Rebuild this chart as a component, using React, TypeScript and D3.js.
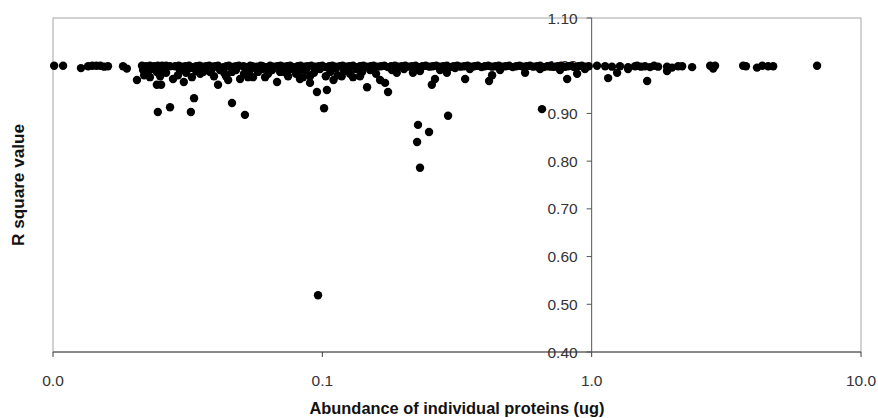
import React from "react";
import * as d3 from "d3";

// ---- data: [abundance (ug), R square] ----
const lowAbundancePoints: [number, number][] = [
  [0.0101, 1.0], [0.0109, 1.0], [0.0127, 0.995], [0.0135, 0.999], [0.0140, 1.0],
  [0.0145, 1.0], [0.0150, 1.0], [0.0155, 0.998], [0.0160, 0.999], [0.0182, 0.999],
  [0.0188, 0.994], [0.0214, 1.0], [0.0221, 0.999], [0.0229, 1.0], [0.0237, 0.999],
  [0.0245, 1.0], [0.0254, 1.0], [0.0263, 1.0], [0.0272, 0.999],
  [0.0216, 0.991], [0.0225, 0.987], [0.0233, 0.993], [0.0243, 0.987], [0.0254, 0.991],
  [0.0263, 0.985], [0.0218, 0.980], [0.0229, 0.976], [0.0250, 0.978], [0.0221, 0.995],
  [0.0261, 0.995],
];

const mainBandPoints: [number, number][] = [
  [0.0284, 0.999], [0.0293, 1.0], [0.0301, 0.998], [0.031, 0.999], [0.032, 1.0], [0.033, 0.997],
  [0.034, 0.999], [0.035, 1.0], [0.036, 0.998], [0.037, 0.999], [0.038, 1.0], [0.039, 0.998],
  [0.040, 0.999], [0.041, 1.0], [0.043, 0.997], [0.044, 0.999], [0.045, 1.0], [0.047, 0.998],
  [0.048, 0.999], [0.049, 1.0], [0.051, 0.999], [0.052, 0.997], [0.054, 1.0], [0.055, 0.999],
  [0.057, 0.998], [0.059, 1.0], [0.060, 0.999], [0.062, 0.997], [0.064, 1.0], [0.066, 0.998],
  [0.068, 0.999], [0.070, 1.0], [0.072, 0.998], [0.074, 0.999], [0.076, 1.0], [0.079, 0.997],
  [0.081, 0.999], [0.083, 1.0], [0.086, 0.998], [0.088, 0.999], [0.091, 1.0], [0.094, 0.998],
  [0.097, 0.999], [0.100, 1.0], [0.103, 0.997], [0.106, 0.999], [0.109, 1.0], [0.112, 0.998],
  [0.116, 0.999], [0.119, 1.0], [0.123, 0.998], [0.126, 0.999], [0.130, 1.0], [0.134, 0.997],
  [0.138, 0.999], [0.142, 1.0], [0.146, 0.998], [0.151, 0.999], [0.155, 1.0], [0.160, 0.998],
  [0.165, 0.999], [0.170, 1.0], [0.175, 0.997], [0.180, 0.999], [0.186, 1.0], [0.191, 0.998],
  [0.197, 0.999], [0.203, 1.0], [0.209, 0.998], [0.215, 0.999], [0.222, 1.0], [0.228, 0.997],
  [0.235, 0.999], [0.242, 1.0], [0.250, 0.998], [0.257, 0.999], [0.265, 1.0], [0.273, 0.998],
  [0.281, 0.999], [0.290, 1.0], [0.298, 0.997], [0.307, 0.999], [0.317, 1.0], [0.326, 0.998],
  [0.336, 0.999], [0.346, 1.0], [0.356, 0.998], [0.367, 0.999], [0.378, 1.0], [0.390, 0.997],
  [0.401, 0.999], [0.413, 1.0], [0.426, 0.998], [0.439, 0.999], [0.452, 1.0], [0.465, 0.998],
  [0.479, 0.999], [0.494, 1.0], [0.509, 0.997], [0.524, 0.999], [0.540, 1.0], [0.556, 0.998],
  [0.573, 0.999], [0.590, 1.0], [0.607, 0.998], [0.626, 0.999], [0.644, 1.0], [0.664, 0.997],
  [0.684, 0.999], [0.704, 1.0], [0.725, 0.998], [0.747, 0.999], [0.770, 1.0], [0.793, 0.998],
  [0.817, 0.999], [0.841, 1.0], [0.866, 0.997], [0.892, 0.999], [0.919, 1.0], [0.947, 0.998],
  [0.975, 0.999],
];

const subBandPoints: [number, number][] = [
  [0.0296, 0.991], [0.0312, 0.985], [0.0323, 0.995], [0.0340, 0.989], [0.0352, 0.983],
  [0.0367, 0.993], [0.0383, 0.987], [0.0396, 0.978], [0.0417, 0.991], [0.0432, 0.985],
  [0.0478, 0.991], [0.0512, 0.983], [0.0539, 0.991], [0.0577, 0.987], [0.0597, 0.993],
  [0.0629, 0.983], [0.0651, 0.991], [0.0721, 0.987], [0.0759, 0.993], [0.0799, 0.983],
  [0.0870, 0.991], [0.0931, 0.985], [0.098, 0.993], [0.107, 0.987], [0.1124, 0.995],
  [0.1205, 0.989], [0.1267, 0.983], [0.1334, 0.993], [0.1404, 0.987], [0.1504, 0.991],
  [0.1583, 0.983], [0.1814, 0.991], [0.201, 0.993], [0.2305, 0.989], [0.2735, 0.991],
  [0.311, 0.995], [0.353, 0.993], [0.457, 0.991], [0.643, 0.993], [0.763, 0.991],
  [0.944, 0.993],
  [0.0291, 0.980], [0.0328, 0.976], [0.0361, 0.987], [0.0389, 0.993], [0.0439, 0.978],
  [0.0462, 0.987], [0.0530, 0.976], [0.0567, 0.995], [0.0613, 0.976], [0.0697, 0.987],
  [0.0746, 0.978], [0.0826, 0.991], [0.090, 0.978], [0.103, 0.978], [0.118, 0.978],
  [0.138, 0.978],
];

const outlierPoints: [number, number][] = [
  [0.0205, 0.970], [0.0243, 0.960], [0.0252, 0.960], [0.0279, 0.972], [0.0306, 0.966],
  [0.0334, 0.932], [0.0245, 0.903], [0.0272, 0.913], [0.0325, 0.903], [0.0462, 0.922],
  [0.0516, 0.897], [0.1015, 0.911], [0.0410, 0.960], [0.0447, 0.970], [0.0495, 0.972],
  [0.0553, 0.976], [0.0679, 0.966], [0.0826, 0.972], [0.090, 0.964], [0.0955, 0.945],
  [0.104, 0.949], [0.0848, 0.976], [0.110, 0.970], [0.114, 0.980], [0.130, 0.976],
  [0.1466, 0.955], [0.1638, 0.970], [0.171, 0.964], [0.1754, 0.945], [0.189, 0.985],
  [0.217, 0.985], [0.255, 0.960], [0.262, 0.972], [0.290, 0.985], [0.293, 0.895],
  [0.2266, 0.876], [0.249, 0.861], [0.2248, 0.840], [0.2305, 0.786], [0.339, 0.972],
  [0.416, 0.968], [0.427, 0.980], [0.566, 0.985], [0.654, 0.909], [0.811, 0.972],
  [0.883, 0.983], [0.0964, 0.519],
];

const highAbundancePoints: [number, number][] = [
  [1.047, 1.0], [1.122, 0.999], [1.19, 0.998], [1.274, 0.999], [1.365, 0.997], [1.449, 0.999],
  [1.151, 0.974], [1.243, 0.985], [1.365, 0.993], [1.475, 1.0], [1.525, 0.998], [1.578, 0.999],
  [1.647, 0.997], [1.705, 1.0], [1.765, 0.998], [1.607, 0.968], [1.905, 0.998], [1.905, 0.989],
  [1.988, 0.996], [2.094, 0.999], [2.167, 0.999], [2.36, 0.997], [2.754, 1.0], [2.825, 0.994],
  [2.872, 1.0], [3.65, 1.0], [3.74, 0.999], [4.11, 0.996], [4.30, 1.0], [4.52, 0.999],
  [4.72, 0.999], [6.87, 1.0],
];

const xTicks = [0.01, 0.1, 1, 10];
const xTickLabels = ["0.0", "0.1", "1.0", "10.0"];
const yTicks = [0.4, 0.5, 0.6, 0.7, 0.8, 0.9, 1.0, 1.1];
const yTickLabels = ["0.40", "0.50", "0.60", "0.70", "0.80", "0.90", "1.00", "1.10"];
const xTitle = "Abundance of individual proteins (ug)";
const yTitle = "R square value";

const W = 878;
const H = 418;
const left = 53;
const right = 861;
const top = 18;
const bottom = 352;

export default function App() {
  const x = d3.scaleLog().domain([0.01, 10]).range([left, right]);
  const y = d3.scaleLinear().domain([0.4, 1.1]).range([bottom, top]);
  const all = [
    ...lowAbundancePoints,
    ...mainBandPoints,
    ...subBandPoints,
    ...outlierPoints,
    ...highAbundancePoints,
  ];
  const axisX = x(1);
  const font = "'Liberation Sans', Arial, sans-serif";
  return (
    <svg
      width={W}
      height={H}
      style={{ position: "absolute", left: 0, top: 0, background: "#fff" }}
      fontFamily={font}
    >
      <rect x={0} y={0} width={W} height={H} fill="#fff" />
      {/* plot border */}
      <rect
        x={left}
        y={top}
        width={right - left}
        height={bottom - top}
        fill="none"
        stroke="#a6a6a6"
        strokeWidth={1}
      />
      {/* x axis line */}
      <line x1={left} x2={right} y1={bottom} y2={bottom} stroke="#404040" strokeWidth={1} />
      {xTicks.map((t, i) => (
        <g key={"xt" + i}>
          <line x1={x(t)} x2={x(t)} y1={bottom} y2={bottom + 5} stroke="#404040" />
          <text
            x={x(t)}
            y={bottom + 34}
            textAnchor="middle"
            fontSize={15.5}
            fill="#333"
          >
            {xTickLabels[i]}
          </text>
        </g>
      ))}
      {/* y axis at x = 1 */}
      <line x1={axisX} x2={axisX} y1={top} y2={bottom} stroke="#555" strokeWidth={1} />
      {yTicks.map((t, i) => (
        <g key={"yt" + i}>
          <line x1={axisX - 5} x2={axisX} y1={y(t)} y2={y(t)} stroke="#555" />
          <text
            x={axisX - 14}
            y={y(t)}
            dy="0.36em"
            textAnchor="end"
            fontSize={15.5}
            fill="#333"
          >
            {yTickLabels[i]}
          </text>
        </g>
      ))}
      {/* points */}
      {all.map((p, i) => (
        <circle key={"p" + i} cx={x(p[0])} cy={y(p[1])} r={4.2} fill="#000" />
      ))}
      {/* titles */}
      <text
        x={(left + right) / 2}
        y={414}
        textAnchor="middle"
        fontSize={16}
        fontWeight="bold"
        fill="#111"
        textLength={295}
        lengthAdjust="spacingAndGlyphs"
      >
        {xTitle}
      </text>
      <text
        transform={`translate(24, ${(top + bottom) / 2}) rotate(-90)`}
        textAnchor="middle"
        fontSize={16}
        fontWeight="bold"
        fill="#111"
        textLength={122}
        lengthAdjust="spacingAndGlyphs"
      >
        {yTitle}
      </text>
    </svg>
  );
}
